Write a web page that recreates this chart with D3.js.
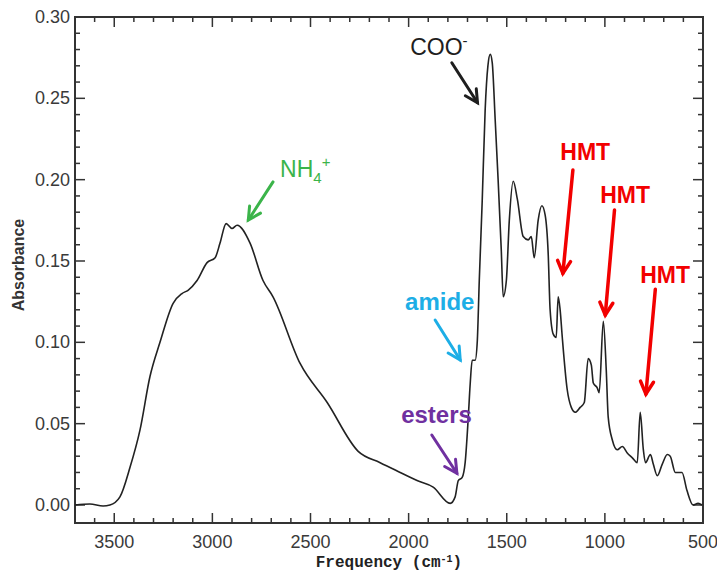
<!DOCTYPE html>
<html>
<head>
<meta charset="utf-8">
<script src="https://cdn.jsdelivr.net/npm/d3@7"></script>
<style>
  html, body { margin: 0; padding: 0; background: #fff; }
  svg { display: block; }
</style>
</head>
<body>
<svg id="chart" width="717" height="574"></svg>
<script>
// ---- Data ----
const frequency = [3700, 3624, 3557, 3522, 3471, 3420, 3369, 3318, 3267, 3200, 3155, 3124, 3078, 3027, 2986, 2961, 2930, 2900, 2874, 2808, 2742, 2691, 2553, 2415, 2257, 2145, 2043, 1957, 1875, 1788, 1763, 1747, 1727, 1712, 1696, 1686, 1676, 1661, 1650, 1640, 1625, 1610, 1596, 1584, 1574, 1559, 1544, 1528, 1518, 1502, 1487, 1467, 1446, 1416, 1391, 1375, 1360, 1340, 1321, 1304, 1289, 1279, 1263, 1248, 1238, 1228, 1217, 1192, 1171, 1151, 1126, 1105, 1085, 1069, 1059, 1039, 1029, 1008, 993, 983, 962, 937, 911, 886, 860, 835, 820, 804, 793, 768, 753, 733, 708, 682, 667, 641, 607, 582, 551, 525, 505];
const absorbance = [0.000, 0.0006, -0.0006, 0.000, 0.005, 0.023, 0.046, 0.079, 0.100, 0.124, 0.130, 0.132, 0.138, 0.149, 0.152, 0.161, 0.173, 0.170, 0.172, 0.161, 0.138, 0.128, 0.087, 0.063, 0.033, 0.026, 0.020, 0.015, 0.011, 0.001, 0.005, 0.015, 0.017, 0.026, 0.054, 0.075, 0.089, 0.089, 0.101, 0.138, 0.187, 0.243, 0.270, 0.277, 0.272, 0.237, 0.200, 0.157, 0.128, 0.138, 0.175, 0.199, 0.188, 0.165, 0.163, 0.165, 0.152, 0.175, 0.184, 0.178, 0.155, 0.120, 0.105, 0.103, 0.128, 0.120, 0.103, 0.071, 0.060, 0.057, 0.060, 0.063, 0.090, 0.086, 0.075, 0.072, 0.069, 0.113, 0.083, 0.054, 0.040, 0.034, 0.036, 0.032, 0.029, 0.026, 0.057, 0.034, 0.026, 0.031, 0.025, 0.018, 0.025, 0.031, 0.030, 0.020, 0.020, 0.009, 0.000, 0.001, 0.000];

const xMajorTicks = [3500, 3000, 2500, 2000, 1500, 1000, 500];
const yMajorTicks = [0.00, 0.05, 0.10, 0.15, 0.20, 0.25, 0.30];
const xLabel = "Frequency (cm";
const yLabel = "Absorbance";

// Annotations (text position, arrow start, arrow tip in data units)
const annLabels = ["COO", "NH", "amide", "esters", "HMT", "HMT", "HMT"];
const annColors = ["#1e1e1e", "#3bb44a", "#1daee6", "#7030a0", "#f20000", "#f20000", "#f20000"];
const annTextF = [1992, 2655, 2018, 2038, 1227, 1024, 820];
const annTextA = [0.2766, 0.2016, 0.1199, 0.0504, 0.2121, 0.1858, 0.1363];
const annFromF = [1780, 2691, 1865, 1882, 1163, 951, 743];
const annFromA = [0.2719, 0.1986, 0.1137, 0.0430, 0.2059, 0.1813, 0.1326];
const annToF = [1649, 2817, 1737, 1754, 1214, 998, 791];
const annToA = [0.2473, 0.1752, 0.0891, 0.0195, 0.1424, 0.1168, 0.0682];

(function () {
const svg = d3.select("#chart");
const mLeft = 75, mRight = 703, mTop = 17, mBottom = 523;

const x = d3.scaleLinear().domain([3700, 500]).range([mLeft, mRight]);
const y = d3.scaleLinear().domain([-0.01107, 0.30]).range([mBottom, mTop]);

const frameColor = "#333";
const labelColor = "#3a3a3a";

const xMinor = d3.range(3700, 499, -100);
const yMinor = d3.range(0, 0.3001, 0.01);

const g = svg.append("g");

g.append("rect")
  .attr("x", mLeft).attr("y", mTop)
  .attr("width", mRight - mLeft).attr("height", mBottom - mTop)
  .attr("fill", "none").attr("stroke", frameColor).attr("stroke-width", 2);

function isMajorX(v) { return xMajorTicks.indexOf(v) >= 0; }
function isMajorY(v) { return yMajorTicks.some(t => Math.abs(t - v) < 1e-6); }

xMinor.forEach(v => {
  const len = isMajorX(v) ? 10 : 5;
  const px = x(v);
  if (px <= mLeft + 0.5 || px >= mRight - 0.5) return;
  g.append("line").attr("x1", px).attr("x2", px).attr("y1", mBottom).attr("y2", mBottom - len)
    .attr("stroke", frameColor).attr("stroke-width", 1.5);
  g.append("line").attr("x1", px).attr("x2", px).attr("y1", mTop).attr("y2", mTop + len)
    .attr("stroke", frameColor).attr("stroke-width", 1.5);
});
yMinor.forEach(v => {
  const len = isMajorY(v) ? 10 : 5;
  const py = y(v);
  if (py <= mTop + 0.5) return;
  g.append("line").attr("x1", mLeft).attr("x2", mLeft + len).attr("y1", py).attr("y2", py)
    .attr("stroke", frameColor).attr("stroke-width", 1.5);
  g.append("line").attr("x1", mRight).attr("x2", mRight - len).attr("y1", py).attr("y2", py)
    .attr("stroke", frameColor).attr("stroke-width", 1.5);
});

g.selectAll("text.xt").data(xMajorTicks).enter().append("text")
  .attr("class", "xt")
  .attr("x", d => x(d)).attr("y", mBottom + 25)
  .attr("text-anchor", "middle")
  .attr("font-family", "Liberation Sans, Arial, sans-serif")
  .attr("font-size", 18).attr("fill", labelColor)
  .text(d => d);

g.selectAll("text.yt").data(yMajorTicks).enter().append("text")
  .attr("class", "yt")
  .attr("x", mLeft - 5).attr("y", d => y(d) + 6)
  .attr("text-anchor", "end")
  .attr("font-family", "Liberation Sans, Arial, sans-serif")
  .attr("font-size", 18).attr("fill", labelColor)
  .text(d => d.toFixed(2));

const xt = svg.append("text")
  .attr("x", (mLeft + mRight) / 2).attr("y", 567)
  .attr("text-anchor", "middle")
  .attr("font-family", "Liberation Mono, DejaVu Sans Mono, monospace")
  .attr("font-weight", "bold")
  .attr("font-size", 16).attr("fill", "#222");
xt.append("tspan").text(xLabel);
xt.append("tspan").attr("baseline-shift", "super").attr("font-size", 10).text("-1");
xt.append("tspan").text(")");

svg.append("text")
  .attr("transform", "translate(24,265) rotate(-90)")
  .attr("text-anchor", "middle")
  .attr("font-family", "Liberation Sans, Arial, sans-serif")
  .attr("font-weight", "bold")
  .attr("font-size", 16).attr("fill", "#333")
  .text(yLabel);

const data = frequency.map((f, i) => ({ f: f, a: absorbance[i] }));
const line = d3.line().x(d => x(d.f)).y(d => y(d.a)).curve(d3.curveMonotoneX);
svg.append("path").datum(data)
  .attr("d", line)
  .attr("fill", "none").attr("stroke", "#222").attr("stroke-width", 1.6)
  .attr("stroke-linejoin", "round");

annLabels.forEach((lab, i) => {
  const col = annColors[i];
  const isHMT = lab === "HMT";
  const bold = isHMT || lab === "amide" || lab === "esters";
  const fs = isHMT ? 23 : (lab === "NH" ? 23 : (lab === "COO" ? 23 : 24));
  const t = svg.append("text")
    .attr("x", x(annTextF[i])).attr("y", y(annTextA[i]))
    .attr("font-family", "Liberation Sans, Arial, sans-serif")
    .attr("font-weight", bold ? "bold" : "normal")
    .attr("font-size", fs).attr("fill", col);
  if (lab === "COO") {
    t.append("tspan").text("COO");
    t.append("tspan").attr("dy", -9).attr("font-size", 15).text("-");
  } else if (lab === "NH") {
    t.append("tspan").text("NH");
    t.append("tspan").attr("dy", 6).attr("font-size", 15).text("4");
    t.append("tspan").attr("dy", -16).attr("font-size", 15).text("+");
  } else {
    t.text(lab);
  }
  const x1 = x(annFromF[i]), y1 = y(annFromA[i]);
  const x2 = x(annToF[i]), y2 = y(annToA[i]);
  const sw = isHMT ? 3.5 : 3;
  svg.append("line").attr("x1", x1).attr("y1", y1).attr("x2", x2).attr("y2", y2)
    .attr("stroke", col).attr("stroke-width", sw).attr("stroke-linecap", "round");
  const ang = Math.atan2(y2 - y1, x2 - x1);
  const hl = 14, ha = Math.PI / 6.5;
  const p1 = [x2 - hl * Math.cos(ang - ha), y2 - hl * Math.sin(ang - ha)];
  const p2 = [x2 - hl * Math.cos(ang + ha), y2 - hl * Math.sin(ang + ha)];
  svg.append("path")
    .attr("d", `M${p1[0]},${p1[1]}L${x2},${y2}L${p2[0]},${p2[1]}`)
    .attr("fill", "none").attr("stroke", col).attr("stroke-width", sw)
    .attr("stroke-linecap", "round").attr("stroke-linejoin", "miter");
});
})();
</script>
</body>
</html>
